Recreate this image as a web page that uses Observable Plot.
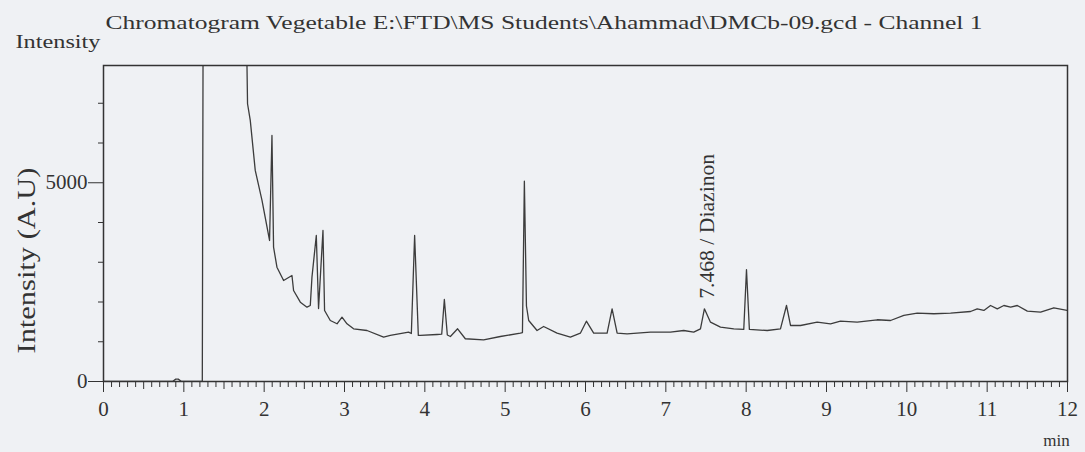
<!DOCTYPE html>
<html>
<head>
<meta charset="utf-8">
<script src="https://cdn.jsdelivr.net/npm/d3@7"></script>
<script src="https://cdn.jsdelivr.net/npm/@observablehq/plot@0.6"></script>
<style>
  html, body { margin: 0; padding: 0; background: #eff1f4; }
  #chart svg { display: block; font-family: 'Liberation Serif', 'Times New Roman', serif; }
  #chart svg text { font-family: 'Liberation Serif', 'Times New Roman', serif; }
</style>
</head>
<body>
<div id="chart"></div>
<script>
// Retention time (min) and detector intensity (A.U)
const times = [
  0, 0.86, 0.9, 0.93, 0.97, 1.23, 1.24, 1.78, 1.786, 1.793, 1.827, 1.889, 1.973, 2.067,
  2.097, 2.117, 2.138, 2.159, 2.242, 2.346, 2.366, 2.45, 2.533, 2.574, 2.595, 2.649,
  2.677, 2.732, 2.752, 2.823, 2.907, 2.969, 3.031, 3.113, 3.28, 3.487, 3.57, 3.798,
  3.832, 3.873, 3.919, 3.944, 4.152, 4.21, 4.243, 4.28, 4.318, 4.408, 4.504, 4.732,
  4.94, 5.189, 5.215, 5.239, 5.265, 5.293, 5.397, 5.479, 5.646, 5.812, 5.936, 6.011,
  6.102, 6.269, 6.331, 6.394, 6.518, 6.808, 7.057, 7.223, 7.347, 7.431, 7.48, 7.556,
  7.68, 7.846, 7.97, 8.004, 8.04, 8.262, 8.427, 8.502, 8.552, 8.677, 8.884, 9.05,
  9.174, 9.382, 9.631, 9.797, 9.963, 10.129, 10.336, 10.544, 10.793, 10.876, 10.959,
  11.042, 11.126, 11.208, 11.292, 11.375, 11.5, 11.665, 11.83, 12
];
const intensity = [
  0, 0, 60, 60, 0, 0, 9000, 9000, 7950, 6988, 6568, 5310, 4555, 3548,
  6190, 3380, 3128, 2876, 2542, 2667, 2290, 1996, 1870, 1912, 2625, 3674,
  1837, 3800, 1787, 1535, 1452, 1618, 1452, 1326, 1283, 1115, 1158, 1241,
  1208, 3674, 1158, 1158, 1183, 1190, 2063, 1170, 1132, 1326, 1075, 1049,
  1132, 1215, 1230, 5040, 1900, 1535, 1283, 1384, 1215, 1115, 1215, 1517,
  1215, 1215, 1829, 1215, 1200, 1241, 1241, 1283, 1241, 1326, 1829, 1492,
  1366, 1326, 1310, 2811, 1310, 1283, 1326, 1912, 1409, 1409, 1492, 1452,
  1517, 1492, 1553, 1535, 1661, 1719, 1704, 1719, 1761, 1829, 1787,
  1912, 1829, 1912, 1870, 1912, 1769, 1744, 1855, 1787
];

const xMajorTicks = [0, 1, 2, 3, 4, 5, 6, 7, 8, 9, 10, 11, 12];
const yMajorTicks = [0, 5000];
const yMinorTicks = [1000, 2000, 3000, 4000, 6000, 7000];
const peakLabels = ["7.468 / Diazinon"];
const peakTimes = [7.468];
const peakHeights = [1829];

const titleText = "Chromatogram Vegetable E:\\FTD\\MS Students\\Ahammad\\DMCb-09.gcd - Channel 1";
const cornerText = "Intensity";
const yLabelText = "Intensity (A.U)";
const xUnitText = "min";

const xHalfTicks = d3.range(0, 12, 1).map(d => d + 0.5);
const xMinorTicks = d3.range(0, 120).map(d => d / 10).filter(d => Math.abs(d * 2 - Math.round(d * 2)) > 1e-6);

const rows = times.map((t, i) => ({t, v: intensity[i]}));
const peaks = peakLabels.map((label, i) => ({label, t: peakTimes[i], v: peakHeights[i]}));

const ink = "#333";
const serif = "'Liberation Serif', 'Times New Roman', serif";

const chart = Plot.plot({
  width: 1085,
  height: 452,
  marginLeft: 103,
  marginRight: 18,
  marginTop: 65,
  marginBottom: 71,
  style: {background: "#eff1f4", fontFamily: serif, fontSize: "21px", color: ink},
  x: {domain: [0, 12]},
  y: {domain: [0, 7950]},
  marks: [
    Plot.line(rows, {x: "t", y: "v", stroke: "#3c3c3c", strokeWidth: 1.3, clip: true}),
    Plot.frame({stroke: ink, strokeWidth: 1.5}),
    Plot.axisX(xMajorTicks, {tickSize: 11, tickPadding: 9, label: null, stroke: ink, fill: ink, fontSize: 21}),
    Plot.axisX(xHalfTicks, {tickSize: 8, tickFormat: () => null, label: null, stroke: ink}),
    Plot.axisX(xMinorTicks, {tickSize: 6, tickFormat: () => null, label: null, stroke: ink}),
    Plot.axisY(yMajorTicks, {tickSize: 15, tickPadding: 1, label: null, stroke: ink, fill: ink, fontSize: 21, tickFormat: d => String(d)}),
    Plot.axisY(yMinorTicks, {tickSize: 5, tickFormat: () => null, label: null, stroke: ink}),
    Plot.text(peaks, {x: "t", y: "v", text: "label", rotate: -90, textAnchor: "start", lineAnchor: "middle", dx: 4, dy: -10, fontSize: 20, fill: ink}),
    Plot.text([titleText], {frameAnchor: "top-left", dx: 2, dy: -37, lineAnchor: "bottom", textAnchor: "start", fontSize: 19, fill: ink}),
    Plot.text([cornerText], {frameAnchor: "top-left", dx: -88, dy: -18, lineAnchor: "bottom", textAnchor: "start", fontSize: 19, fill: ink}),
    Plot.text([yLabelText], {frameAnchor: "left", dx: -77, dy: 37, rotate: -90, textAnchor: "middle", lineAnchor: "middle", fontSize: 25, fill: ink}),
    Plot.text([xUnitText], {frameAnchor: "bottom-right", dx: -11, dy: 59, textAnchor: "middle", lineAnchor: "middle", fontSize: 17, fill: ink})
  ]
});

// stretch the serif labels to the widths they occupy in the reference
const stretch = {[titleText]: 877, [cornerText]: 85, [yLabelText]: 186, [peakLabels[0]]: 145};
d3.select(chart).selectAll("text").each(function () {
  const w = stretch[this.textContent];
  if (w) { this.setAttribute("textLength", w); this.setAttribute("lengthAdjust", "spacingAndGlyphs"); }
});

document.getElementById("chart").append(chart);
</script>
</body>
</html>
